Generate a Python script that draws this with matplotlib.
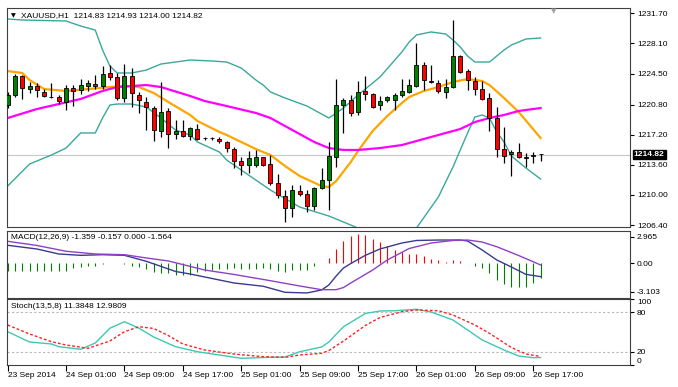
import numpy as np
import matplotlib
matplotlib.use('Agg')
from matplotlib import pyplot as plt
from matplotlib import transforms

plt.rcParams['font.family'] = ['Liberation Sans', 'DejaVu Sans']
plt.rcParams['font.size'] = 6

# XAUUSD H1, 23 Sep 17:00 .. 26 Sep 18:00
opens = [1220.74, 1221.94, 1224.21, 1222.65, 1223.01, 1222.29, 1221.70, 1221.70, 1221.10, 1222.77,
         1222.53, 1223.01, 1223.25, 1223.01, 1224.57, 1224.09, 1221.58, 1224.21, 1221.94, 1221.10,
         1220.38, 1217.63, 1220.02, 1217.28, 1217.63, 1217.04, 1217.87, 1216.85, 1216.80, 1216.68,
         1216.32, 1215.48, 1214.05, 1213.57, 1213.57, 1214.53, 1213.69, 1211.42, 1209.87, 1208.43,
         1210.46, 1210.11, 1208.67, 1210.82, 1211.78, 1214.53, 1220.74, 1221.34, 1219.90, 1222.41,
         1222.05, 1220.74, 1221.34, 1221.34, 1221.94, 1222.29, 1223.01, 1225.52, 1223.61, 1223.37,
         1222.29, 1222.89, 1226.60, 1224.80, 1223.61, 1222.65, 1221.58, 1219.19, 1215.48, 1214.89,
         1215.13, 1214.50, 1214.65, 1214.83]
highs = [1222.29, 1224.45, 1224.33, 1223.49, 1223.37, 1222.65, 1223.37, 1221.94, 1223.13, 1223.13,
         1223.85, 1223.73, 1224.33, 1225.40, 1225.52, 1224.57, 1225.64, 1225.16, 1222.29, 1221.70,
         1220.62, 1223.49, 1220.38, 1218.95, 1218.95, 1218.11, 1218.47, 1216.92, 1216.92, 1216.92,
         1216.44, 1215.72, 1214.53, 1215.25, 1215.36, 1214.53, 1214.77, 1212.50, 1210.59, 1211.18,
         1211.18, 1210.59, 1210.94, 1213.21, 1216.32, 1223.85, 1221.58, 1221.94, 1223.61, 1224.21,
         1222.17, 1221.82, 1221.82, 1222.17, 1223.85, 1223.85, 1228.15, 1225.88, 1225.52, 1223.73,
         1223.85, 1230.90, 1226.72, 1225.04, 1224.09, 1223.61, 1222.17, 1220.50, 1218.11, 1215.36,
         1216.20, 1215.01, 1215.13, 1214.93]
lows = [1220.38, 1221.70, 1221.46, 1222.17, 1221.70, 1221.70, 1221.58, 1220.86, 1220.14, 1220.62,
        1222.05, 1222.41, 1222.65, 1222.65, 1223.73, 1221.34, 1221.10, 1220.50, 1219.79, 1217.75,
        1216.44, 1216.92, 1215.60, 1216.68, 1216.92, 1216.56, 1216.56, 1216.56, 1216.56, 1216.20,
        1215.13, 1213.21, 1212.38, 1212.62, 1213.33, 1213.45, 1211.18, 1209.63, 1206.76, 1207.36,
        1209.87, 1207.96, 1208.20, 1210.70, 1208.20, 1213.33, 1217.39, 1219.43, 1219.55, 1221.34,
        1220.38, 1220.14, 1221.10, 1220.14, 1221.70, 1222.17, 1222.89, 1222.53, 1223.37, 1222.17,
        1221.58, 1222.77, 1224.57, 1222.53, 1221.94, 1221.34, 1217.63, 1214.53, 1213.81, 1212.26,
        1214.41, 1213.33, 1213.81, 1214.00]
closes = [1221.94, 1224.21, 1222.77, 1223.01, 1222.53, 1221.82, 1221.65, 1221.22, 1222.77, 1222.41,
          1223.13, 1223.37, 1223.01, 1224.45, 1224.09, 1221.58, 1224.21, 1222.17, 1221.34, 1220.50,
          1217.75, 1219.90, 1217.28, 1217.63, 1217.04, 1217.99, 1216.68, 1216.80, 1216.75, 1216.44,
          1215.60, 1214.05, 1213.57, 1214.41, 1214.53, 1213.57, 1211.42, 1209.99, 1208.43, 1210.59,
          1210.11, 1208.67, 1210.82, 1211.78, 1214.65, 1220.74, 1221.34, 1219.79, 1222.29, 1222.05,
          1220.50, 1221.22, 1221.70, 1221.94, 1222.41, 1223.13, 1225.52, 1223.73, 1223.55, 1222.41,
          1222.89, 1226.60, 1224.68, 1223.73, 1222.65, 1221.46, 1219.19, 1215.48, 1214.65, 1215.13,
          1214.53, 1214.45, 1214.80, 1214.82]

# bollinger bands
bb_up_idx = [0, 2, 8, 10, 12, 13, 14, 15, 17, 19, 21, 23, 25, 28, 30, 32, 34, 35, 36, 38,
             41, 44, 46, 48, 51, 54, 55, 56, 58, 60, 61, 62, 63, 64, 66, 67, 68, 69, 71, 73]
bb_up = [1231.02, 1230.90, 1230.78, 1230.18, 1229.70, 1227.32, 1225.40, 1224.57, 1224.57, 1224.92,
         1225.64, 1225.88, 1226.12, 1226.00, 1225.88, 1225.16, 1223.73, 1223.13, 1222.30, 1221.58,
         1220.62, 1219.19, 1220.38, 1221.94, 1224.09, 1227.08, 1228.27, 1229.11, 1229.47, 1229.23,
         1228.51, 1227.67, 1226.60, 1225.88, 1225.88, 1226.60, 1227.32, 1227.91, 1228.63, 1228.75]
bb_lo_idx = [0, 3, 6, 8, 10, 12, 13, 14, 15, 17, 19, 21, 23, 25, 26, 29, 30, 32, 36, 40,
             44, 48, 50, 52, 54, 56, 59, 61, 63, 64, 65, 66, 67, 68, 69, 71, 73]
bb_lo = [1211.06, 1213.69, 1214.77, 1215.60, 1217.40, 1217.40, 1219.19, 1220.74, 1220.86, 1220.86,
         1220.50, 1219.19, 1217.75, 1217.16, 1216.32, 1215.13, 1214.17, 1212.97, 1210.58, 1208.55,
         1207.48, 1206.04, 1204.85, 1204.37, 1204.85, 1206.04, 1209.75, 1213.33, 1217.40, 1219.31,
         1219.55, 1219.19, 1217.52, 1216.32, 1214.65, 1213.21, 1211.90]
# fast MA (orange)
fast_idx = [0, 2, 3, 5, 8, 11, 14, 16, 18, 20, 22, 25, 26, 29, 30, 34, 36, 38, 40, 43,
            44, 45, 47, 48, 50, 52, 54, 55, 57, 59, 61, 63, 65, 66, 68, 70, 73]
fast_ma = [1224.80, 1224.57, 1223.73, 1222.65, 1222.42, 1222.65, 1222.89, 1223.01, 1222.89, 1222.18,
           1221.10, 1219.55, 1218.83, 1217.52, 1217.16, 1215.48, 1214.77, 1213.45, 1212.26, 1211.06,
           1210.94, 1211.66, 1213.93, 1215.25, 1217.64, 1219.43, 1220.98, 1221.70, 1222.42, 1222.89,
           1223.49, 1223.85, 1223.61, 1223.13, 1221.58, 1219.91, 1216.80]
# slow MA (magenta)
slow_idx = [0, 4, 7, 10, 13, 15, 17, 19, 21, 25, 27, 30, 34, 36, 39, 42, 44, 46, 48, 51,
            54, 56, 58, 60, 62, 64, 66, 68, 70, 73]
slow_ma = [1219.19, 1220.26, 1220.86, 1221.46, 1222.42, 1222.89, 1223.01, 1223.13, 1222.89, 1221.82,
           1221.22, 1220.62, 1219.79, 1219.19, 1217.75, 1216.32, 1215.60, 1215.37, 1215.37, 1215.60,
           1215.96, 1216.44, 1216.92, 1217.40, 1217.87, 1218.71, 1219.19, 1219.55, 1220.03, 1220.38]

# MACD(12,26,9)
macd_hist = [-0.85, -0.85, -0.85, -0.85, -0.85, -0.85, -0.85, -0.8, -0.8, -0.5,
             -0.4, -0.3, -0.3, -0.05, 0.05, 0.05, -0.05, -0.3, -0.35, -0.6,
             -0.95, -1.0, -1.1, -1.3, -1.3, -1.3, -0.95, -0.8, -0.7, -0.6,
             -0.6, -0.55, -0.6, -0.6, -0.6, -0.55, -0.65, -0.85, -0.95, -0.75,
             -0.75, -0.75, -0.3, 0.1, 0.6, 1.6, 2.5, 3.0, 3.2, 3.1,
             2.75, 2.4, 1.95, 1.45, 1.3, 1.1, 1.1, 0.85, 0.55, 0.35,
             0.2, 0.35, 0.25, 0.0, -0.25, -0.55, -1.1, -1.85, -2.3, -2.55,
             -2.55, -2.55, -2.2, -1.6]
macd_idx = [0, 4, 7, 10, 13, 16, 19, 23, 25, 31, 35, 38, 41, 43, 44, 45, 46, 47, 49, 51,
            54, 56, 59, 62, 63, 65, 67, 69, 71, 73]
macd_main = [2.01, 1.60, 1.05, 0.90, 0.97, 0.90, 0.24, -0.88, -1.16, -2.15,
             -2.51, -3.18, -3.25, -2.92, -2.37, -1.38, -0.50, 0.0, 0.90, 1.60,
             2.26, 2.54, 2.59, 2.59, 2.48, 1.49, 0.39, -0.39, -1.20, -1.45]
sig_idx = [0, 4, 8, 12, 16, 19, 22, 27, 31, 36, 40, 43, 45, 46, 47, 50, 52, 55, 58, 61,
           63, 65, 67, 70, 73]
macd_sig = [2.45, 1.99, 1.35, 1.05, 0.97, 0.61, 0.28, -0.72, -1.21, -1.90,
            -2.48, -2.89, -2.89, -2.65, -2.15, -0.72, 0.39, 1.65, 2.26, 2.54,
            2.59, 2.37, 1.85, 0.88, -0.16]

# Stoch(13,5,8)
stm_idx = [0, 3, 6, 7, 10, 12, 14, 16, 18, 20, 23, 26, 29, 32, 36, 38, 40, 43, 44, 46,
           49, 51, 53, 56, 58, 61, 63, 65, 68, 70, 72, 73]
stoch_main = [50.7, 35.0, 32.0, 27.9, 23.9, 33.5, 55.9, 65.9, 55.9, 42.6,
              27.9, 20.2, 15.2, 10.2, 11.7, 12.2, 20.2, 27.4, 35.0, 58.3,
              78.4, 82.2, 82.6, 84.8, 80.7, 68.5, 53.3, 38.1, 22.8, 13.7, 11.1, 11.4]
sts_idx = [0, 3, 6, 8, 11, 14, 16, 18, 20, 22, 24, 27, 31, 35, 38, 40, 43, 44, 46, 49,
           51, 54, 56, 59, 61, 64, 66, 69, 71, 73]
stoch_sig = [60.9, 47.2, 35.5, 30.4, 25.4, 36.5, 50.7, 58.3, 55.6, 44.9,
             32.0, 22.8, 16.7, 12.6, 11.7, 15.2, 17.8, 22.0, 36.5, 60.1,
             72.3, 81.1, 83.7, 82.6, 76.1, 60.9, 48.2, 26.6, 16.7, 13.0]

price_ticks = [1231.70, 1228.10, 1224.50, 1220.80, 1217.20, 1213.60, 1210.00, 1206.40]
macd_ticks = [2.965, 0.0, -3.103]
macd_tick_labels = ['2.965', '0.00', '-3.103']
date_pos = [0, 8, 16, 24, 32, 40, 48, 56, 64, 72]
date_labels = ['23 Sep 2014', '24 Sep 01:00', '24 Sep 09:00', '24 Sep 17:00', '25 Sep 01:00',
               '25 Sep 09:00', '25 Sep 17:00', '26 Sep 01:00', '26 Sep 09:00', '26 Sep 17:00']

W, H = 678, 387


def box(l, t, r, b):
    return [l / W, 1 - b / H, (r - l) / W, (b - t) / H]


fig = plt.figure(figsize=(6.78, 3.87), dpi=100)
ax = fig.add_axes(box(7.3, 7.7, 630, 227.3))
ax2 = fig.add_axes(box(7.3, 231, 630, 298.3), sharex=ax)
ax3 = fig.add_axes(box(7.3, 299.3, 630, 365), sharex=ax)

x = np.arange(len(opens))
o = np.array(opens)
c = np.array(closes)
body = c - o
body = np.where(np.abs(body) < 0.03, 0.001, body)
cols = np.where(c >= o, '#008000', '#ff0000')

# main chart
ax.axhline(closes[-1], color='#c8c8c8', lw=0.8, zorder=1)
ax.plot(bb_up_idx, bb_up, color='#3aa89c', lw=1, zorder=2)
ax.plot(bb_lo_idx, bb_lo, color='#3aa89c', lw=1, zorder=2)
ax.plot(fast_idx, fast_ma, color='#ffa500', lw=1.6, zorder=2)
ax.plot(slow_idx, slow_ma, color='#ff00ff', lw=1.6, zorder=2)
ax.vlines(x, lows, highs, color='black', lw=0.9, zorder=3)
ax.bar(x, body, bottom=o, width=0.55, color=cols, edgecolor='black', lw=0.6, zorder=4)
ax.set_ylim(1206.13, 1232.37)
ax.set_xlim(-0.05, 85.25)

ax.yaxis.tick_right()
ax.set_yticks(price_ticks)
ax.set_yticklabels(['%.2f' % v for v in price_ticks])
trans = transforms.blended_transform_factory(ax.transAxes, ax.transData)
ax.text(1.006, closes[-1], '%.2f' % closes[-1], transform=trans, color='white', va='center',
        ha='left', fontsize=6, fontweight='bold',
        bbox=dict(facecolor='black', edgecolor='black', pad=0.8))

# macd
hist = np.array(macd_hist)
ax2.vlines(x, 0, hist, colors=np.where(hist >= 0, '#ff0000', '#008000'), lw=0.8)
ax2.plot(macd_idx, macd_main, color='#3a3a90', lw=1)
ax2.plot(sig_idx, macd_sig, color='#9040c8', lw=1)
ax2.set_ylim(-3.84, 3.585)
ax2.yaxis.tick_right()
ax2.set_yticks(macd_ticks)
ax2.set_yticklabels(macd_tick_labels)

# stochastic
ax3.axhline(80, color='#b8b8b8', lw=0.8, ls=(0, (2, 2)))
ax3.axhline(20, color='#b8b8b8', lw=0.8, ls=(0, (2, 2)))
ax3.plot(stm_idx, stoch_main, color='#40c8b0', lw=1)
ax3.plot(sts_idx, stoch_sig, color='#ff2020', lw=1, ls=(0, (2, 1.5)))
ax3.set_ylim(0, 100)
ax3.yaxis.tick_right()
ax3.set_yticks([100, 80, 20, 0])
ax3.set_yticklabels(['100', '80', '20', '0'])
ylab = ax3.get_yticklabels()
ylab[0].set_va('top')
ylab[3].set_va('bottom')

ax3.set_xticks(date_pos)
ax3.set_xticklabels(date_labels, ha='left')
ax3.tick_params(axis='x', length=4, pad=1, labelsize=6)

for a in (ax, ax2):
    a.tick_params(axis='x', bottom=False, labelbottom=False)
for a in (ax, ax2, ax3):
    a.tick_params(axis='y', length=3, pad=2, labelsize=6)
    for s in a.spines.values():
        s.set_color('#404040')
        s.set_linewidth(0.8)

# headers
fig.text(13 / W, 1 - 16 / H, '\u25bc', fontsize=4.5, family='DejaVu Sans', va='center', ha='center')
fig.text(21 / W, 1 - 16 / H, 'XAUUSD,H1  1214.83 1214.93 1214.00 1214.82', fontsize=6, va='center')
fig.text(11 / W, 1 - 238 / H, 'MACD(12,26,9) -1.359 -0.157 0.000 -1.564', fontsize=6, va='center')
fig.text(11 / W, 1 - 307 / H, 'Stoch(13,5,8) 11.3848 12.9809', fontsize=6, va='center')
fig.text(554 / W, 1 - 11 / H, '\u25bc', fontsize=5, color='#a0a0a0', family='DejaVu Sans',
         va='center', ha='center')

fig.savefig('out.png', dpi=100)
